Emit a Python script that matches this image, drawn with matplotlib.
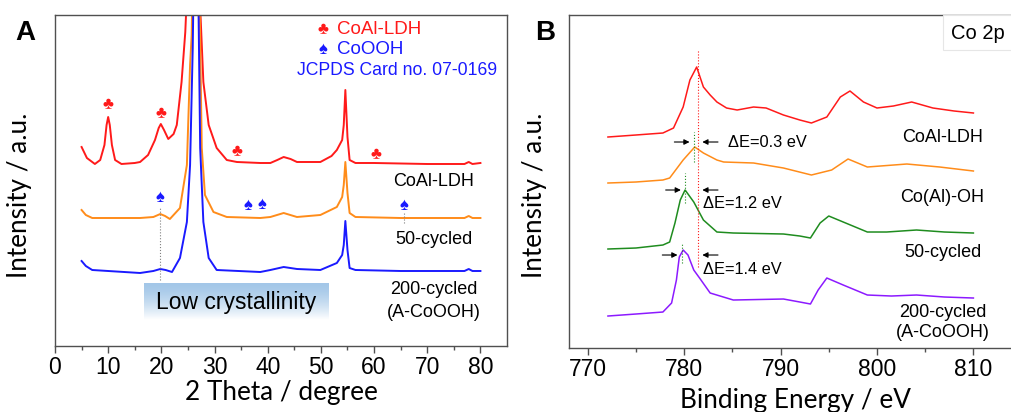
# XRD (A) e XPS Co 2p (B)
import numpy as np
import matplotlib.pyplot as plt
from matplotlib.patches import Rectangle

plt.rcParams['font.family'] = ['Liberation Sans', 'DejaVu Sans']

#####################################################################################################
# dados
#####################################################################################################
## painel A - XRD, 2 theta / intensidade (a.u.)
tt_ldh = [5.0, 6.0, 7.5, 8.5, 9.3, 9.7, 10.0, 10.3, 10.7, 11.3, 12.5, 15.0, 16.0, 17.5, 18.8, 19.5,
          19.9, 20.5, 21.3, 22.3, 22.9, 23.8, 24.5, 25.0, 26.0, 27.0, 27.9, 28.9, 30.4, 32.3, 34.2,
          38.6, 40.5, 41.8, 43.0, 44.3, 45.5, 49.9, 52.0, 53.0, 54.0, 54.3, 54.6, 55.0, 55.4, 56.5,
          60.0, 70.0, 77.0, 77.8, 78.5, 80.0]
i_ldh = [199, 188, 182, 186, 201, 221, 229, 221, 201, 186, 182, 183, 184, 191, 206, 218,
         222, 216, 207, 212, 221, 264, 314, 376, 650, 376, 264, 221, 198, 186, 184,
         183, 183, 186, 189, 187, 184, 184, 190, 196, 206, 221, 256, 209, 186, 183,
         183, 182, 182, 184, 182, 183]

tt_50 = [5.0, 5.8, 7.0, 16.0, 18.5, 19.8, 20.7, 21.6, 23.5, 24.8, 25.4, 25.7, 25.9, 26.3, 27.1,
         27.6, 28.2, 29.8, 32.3, 38.6, 40.5, 43.0, 45.5, 49.9, 53.0, 54.0, 54.3, 54.6, 55.0, 55.4,
         56.5, 65.0, 77.0, 77.8, 78.5, 80.0]
i_50 = [136, 131, 128, 128, 129, 132, 130, 127, 138, 181, 281, 311, 376, 646, 376,
        198, 151, 134, 129, 128, 129, 133, 129, 131, 139, 149, 161, 184, 153, 133,
        129, 128, 128, 130, 128, 128]

tt_200 = [5.0, 5.8, 7.0, 16.0, 18.5, 19.8, 20.8, 22.0, 23.5, 24.8, 25.4, 25.9, 26.1, 26.5, 26.9,
          27.3, 27.9, 28.9, 30.4, 38.6, 40.5, 43.0, 45.5, 49.9, 53.0, 54.0, 54.3, 54.6, 55.0, 55.4,
          56.5, 65.0, 77.0, 77.8, 78.5, 80.0]
i_200 = [85, 80, 76, 73, 75, 77, 76, 74, 88, 124, 181, 298, 376, 646, 376,
         198, 124, 88, 76, 74, 76, 79, 77, 76, 83, 91, 101, 125, 96, 78,
         76, 75, 75, 77, 75, 75]

# picos de referencia
ldh_peaks = [10.0, 20.0, 34.2, 60.3]
ldh_marks = [241, 232, 194, 191]
cooh_peaks = [19.8, 36.2, 38.9, 65.6]
cooh_marks = [148, 140, 141, 140]

## painel B - XPS Co 2p
be_ldh = [772.1, 775.0, 777.8, 778.9, 779.9, 780.6, 781.3, 782.0, 782.7, 783.4, 784.4, 785.5, 787.2,
          788.5, 790.3, 792.0, 793.2, 794.8, 796.2, 797.2, 798.6, 800.0, 801.7, 803.6, 805.8, 808.0, 810.0]
xps_ldh = [211, 213, 215, 220, 241, 268, 281, 261, 253, 246, 240, 238, 241,
           240, 233, 228, 225, 231, 251, 257, 246, 240, 242, 246, 240, 237, 235]

be_oh = [772.1, 775.0, 777.8, 778.5, 779.9, 781.1, 782.0, 783.4, 784.1, 787.2, 790.3, 793.2, 795.3,
         797.0, 799.0, 803.1, 806.5, 810.0]
xps_oh = [165, 166, 168, 170, 188, 201, 195, 188, 186, 185, 180, 173, 178,
          189, 181, 184, 181, 177]

be_50 = [772.1, 775.0, 777.8, 778.5, 779.05, 779.6, 780.1, 781.0, 782.0, 783.4, 785.1, 790.3, 792.0,
         793.1, 794.1, 795.0, 796.5, 799.0, 801.0, 804.1, 807.0, 810.0]
xps_50 = [99, 100, 103, 106, 125, 148, 158, 146, 128, 116, 115, 114, 112,
          110, 125, 132, 126, 116, 116, 118, 116, 115]

be_200 = [772.1, 775.0, 777.8, 778.7, 779.2, 779.5, 779.9, 780.4, 781.0, 781.6, 782.7, 785.1, 790.3,
          792.0, 793.1, 793.9, 794.8, 796.5, 799.0, 801.5, 804.1, 807.0, 810.0]
xps_200 = [32, 34, 36, 45, 68, 91, 98, 93, 78, 70, 55, 48, 49,
           46, 44, 58, 70, 63, 53, 52, 53, 51, 50]

# posicoes dos maximos (eV)
peak_ref = 781.4
peak_oh = 781.0
peak_50 = 780.1
peak_200 = 779.75
shifts = ['\u0394E=0.3 eV', '\u0394E=1.2 eV', '\u0394E=1.4 eV']

labels = ['CoAl-LDH', '50-cycled', '200-cycled\n(A-CoOOH)']
labels_b = ['CoAl-LDH', 'Co(Al)-OH', '50-cycled', '200-cycled\n(A-CoOOH)']

red = '#ff1a1a'
orange = '#ff8c1a'
blue = '#1a1aff'
green = '#1f8c1f'
purple = '#8c1aff'
spine = '#505050'
title_font = ['Lato', 'DejaVu Sans']

#####################################################################################################
# Gerando o gráfico
#####################################################################################################
fig = plt.figure(figsize=(10.11, 4.12), dpi=100)

ax1 = fig.add_axes([0.0544, 0.1602, 0.4471, 0.8034])
ax2 = fig.add_axes([0.5628, 0.1553, 0.4477, 0.8083])

for ax in (ax1, ax2):
    for s in ax.spines.values():
        s.set_color(spine)
        s.set_linewidth(1.0)
    ax.set_yticks([])
    ax.tick_params(axis='x', which='both', direction='out', color=spine, labelsize=16.5, pad=2)
    ax.tick_params(axis='x', which='major', length=5, width=1)
    ax.tick_params(axis='x', which='minor', length=3, width=1)

# ---------------- painel A ----------------
ax1.plot(tt_ldh, i_ldh, color=red, lw=1.4)
ax1.plot(tt_50, i_50, color=orange, lw=1.4)
ax1.plot(tt_200, i_200, color=blue, lw=1.4)

for x, y in zip(ldh_peaks, ldh_marks):
    ax1.text(x, y, '\u2663', color=red, fontsize=12, ha='center', va='center')
for x, y in zip(cooh_peaks, cooh_marks):
    ax1.text(x, y, '\u2660', color=blue, fontsize=12, ha='center', va='center')

ax1.plot([19.8, 19.8], [66, 139], color='gray', lw=0.8, ls=':')
ax1.plot([65.6, 65.6], [123, 134], color='gray', lw=0.8, ls=':')

ax1.text(50.4, 316, '\u2663', color=red, fontsize=12, ha='center', va='center')
ax1.text(53.0, 316, 'CoAl-LDH', color=red, fontsize=13.5, ha='left', va='center')
ax1.text(50.4, 296, '\u2660', color=blue, fontsize=12, ha='center', va='center')
ax1.text(53.0, 296, 'CoOOH', color=blue, fontsize=13.5, ha='left', va='center')
ax1.text(45.5, 275, 'JCPDS Card no. 07-0169', color=blue, fontsize=12.7, ha='left', va='center')

for lab, y in zip(labels, [164, 106, 45]):
    ax1.text(71.2, y, lab, fontsize=13, ha='center', va='center', linespacing=1.4)

# caixa "Low crystallinity" com degrade
grad = np.linspace(0, 1, 50)[:, None] ** 1.5
top = np.array([0.64, 0.78, 0.91])
cols = top[None, None, :] * (1 - grad[:, :, None]) + np.ones(3)[None, None, :] * grad[:, :, None]
ax1.imshow(cols, extent=(16.75, 51.4, 26, 62.7), aspect='auto', origin='upper', zorder=0)
ax1.text(34.0, 43.3, 'Low crystallinity', fontsize=16.5, ha='center', va='center')

ax1.set_xlim(0, 85)
ax1.set_ylim(0, 331)
ax1.set_xticks(np.arange(0, 81, 10))
ax1.set_xticks(np.arange(5, 81, 10), minor=True)
ax1.set_xlabel('2 Theta / degree', fontsize=18.8, family=title_font, labelpad=1)
ax1.set_ylabel('Intensity / a.u.', fontsize=18.8, family=title_font)
ax1.yaxis.set_label_coords(-0.051, 0.456)

# ---------------- painel B ----------------
ax2.plot(be_ldh, xps_ldh, color=red, lw=1.1)
ax2.plot(be_oh, xps_oh, color=orange, lw=1.1)
ax2.plot(be_50, xps_50, color=green, lw=1.1)
ax2.plot(be_200, xps_200, color=purple, lw=1.1)

ax2.plot([peak_ref, peak_ref], [81, 298], color=red, lw=0.8, ls=':')
ax2.plot([peak_oh, peak_oh], [186, 216], color=green, lw=0.8, ls=':')
ax2.plot([peak_50, peak_50], [145, 175], color=green, lw=0.8, ls=':')
ax2.plot([peak_200, peak_200], [85, 105], color=green, lw=0.8, ls=':')

arrow = dict(arrowstyle='-|>', color='black', lw=0.8, mutation_scale=8)
for pk, y in zip([peak_oh, peak_50, peak_200], [206, 158, 93]):
    ax2.annotate('', xy=(pk - 0.15, y), xytext=(pk - 2.3, y), arrowprops=arrow)
    ax2.annotate('', xy=(peak_ref + 0.2, y), xytext=(783.8, y), arrowprops=arrow)

ax2.text(784.6, 206, shifts[0], fontsize=11.8, ha='left', va='center')
ax2.text(782.0, 145, shifts[1], fontsize=11.8, ha='left', va='center')
ax2.text(782.0, 79, shifts[2], fontsize=11.8, ha='left', va='center')

for lab, y in zip(labels_b, [211, 151, 96, 25.5]):
    ax2.text(806.8, y, lab, fontsize=13, ha='center', va='center', linespacing=1.3)

ax2.add_patch(Rectangle((0.826, 0.895), 0.2, 0.105, transform=ax2.transAxes,
                        fc='white', ec='#e6e6e6', lw=0.8, zorder=3))
ax2.text(810.5, 314, 'Co 2p', fontsize=14.5, ha='center', va='center', zorder=4)

ax2.set_xlim(768.06, 815)
ax2.set_ylim(0, 333)
ax2.set_xticks(np.arange(770, 811, 10))
ax2.set_xticks(np.arange(775, 811, 10), minor=True)
ax2.set_xlabel('Binding Energy / eV', fontsize=18.8, family=title_font, labelpad=5)
ax2.set_ylabel('Intensity / a.u.', fontsize=18.8, family=title_font)
ax2.yaxis.set_label_coords(-0.049, 0.459)

fig.text(25 / 1011, 1 - 33 / 412, 'A', fontsize=20, fontweight='bold', ha='center', va='center')
fig.text(545 / 1011, 1 - 33 / 412, 'B', fontsize=20, fontweight='bold', ha='center', va='center')

plt.savefig('out.png', dpi=100)
